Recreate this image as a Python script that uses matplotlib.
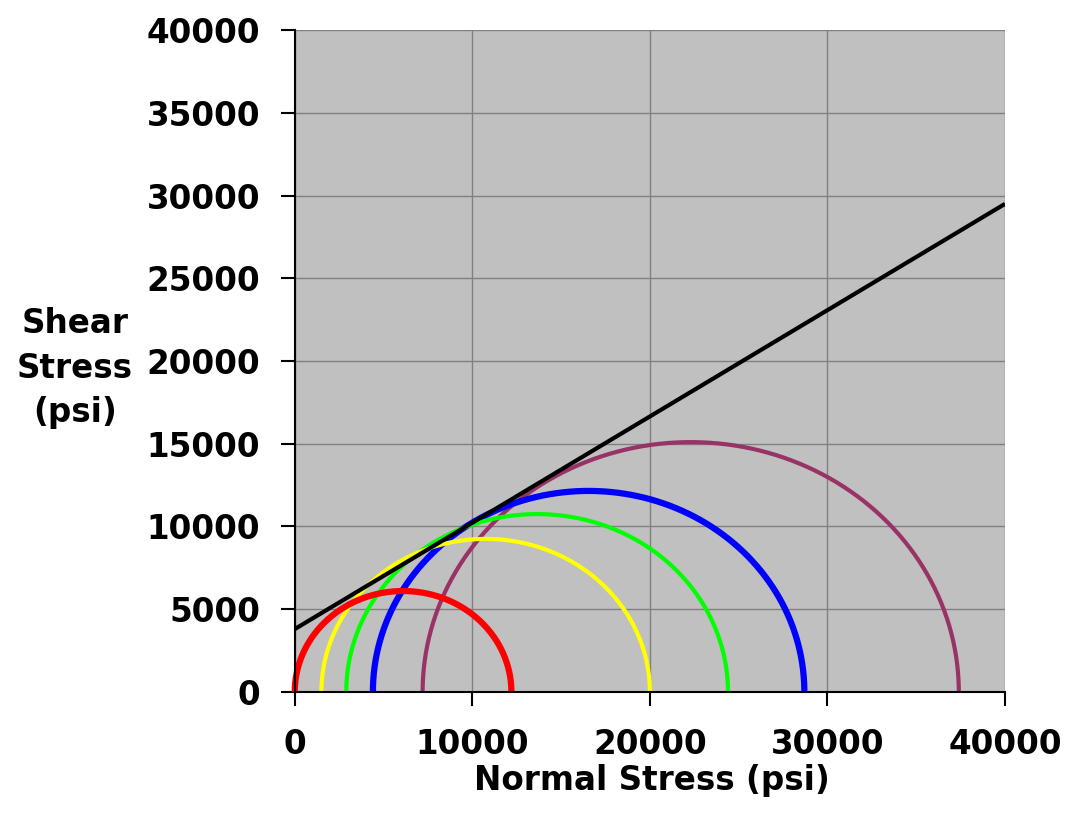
import numpy as np
import matplotlib
matplotlib.use("Agg")
import matplotlib.pyplot as plt

# Mohr circles: minimum and maximum principal stress (psi)
sigma3 = [0, 1500, 2900, 4400, 7200]
sigma1 = [12200, 20000, 24400, 28700, 37400]
circle_colors = ["#FF0000", "#FFFF00", "#00FF00", "#0000FF", "#993366"]
circle_widths = [4.5, 3.0, 3.0, 4.5, 3.0]

# failure envelope end points
env_x = [0, 40000]
env_y = [3800, 29500]

ticks = [0, 10000, 20000, 30000, 40000]
yticks = list(range(0, 40001, 5000))

plt.rcParams['font.family'] = ['DejaVu Sans']
FS = 23.5

fig = plt.figure(figsize=(10.68, 8.15), dpi=100)
ax = fig.add_axes([0.276, 0.151, 0.665, 0.812])
ax.set_facecolor("#C0C0C0")

theta = np.linspace(np.pi, 0, 200)
order = [4, 3, 2, 1, 0]
for i in order:
    c = (sigma1[i] + sigma3[i]) / 2
    r = (sigma1[i] - sigma3[i]) / 2
    ax.plot(c + r * np.cos(theta), r * np.sin(theta),
            color=circle_colors[i], lw=circle_widths[i], zorder=3 + (4 - i) * 0.1,
            solid_capstyle='butt', clip_on=False)

ax.plot(env_x, env_y, color="black", lw=3.0, zorder=4, solid_capstyle='butt')

ax.set_xlim(0, 40000)
ax.set_ylim(0, 40000)
ax.set_xticks(ticks)
ax.set_yticks(yticks)
ax.grid(True, color="#808080", lw=1.0)
ax.set_axisbelow(True)

for s in ['top', 'right']:
    ax.spines[s].set_visible(False)
for s in ['left', 'bottom']:
    ax.spines[s].set_linewidth(1.5)
    ax.spines[s].set_zorder(5)

ax.tick_params(axis='x', direction='out', length=10, width=1.5, pad=16, labelsize=FS)
ax.tick_params(axis='y', direction='out', length=10, width=1.5, pad=15, labelsize=FS)
for lab in ax.get_xticklabels() + ax.get_yticklabels():
    lab.set_fontweight('bold')

fig.text(75 / 1068, 1 - 368 / 815, "Shear\nStress\n(psi)", ha='center', va='center',
         fontsize=FS, fontweight='bold', multialignment='center', linespacing=1.45)
fig.text(652 / 1068, 1 - 790 / 815, "Normal Stress (psi)", ha='center', va='baseline',
         fontsize=FS, fontweight='bold')

fig.savefig("out.png", dpi=100, facecolor="white")
